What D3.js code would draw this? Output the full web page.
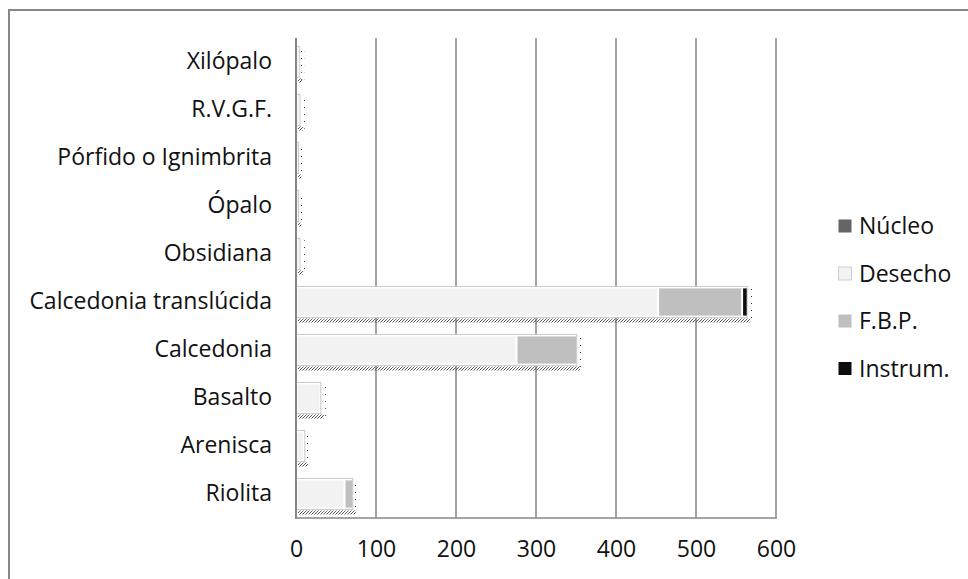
<!DOCTYPE html>
<html>
<head>
<meta charset="utf-8">
<script src="https://cdnjs.cloudflare.com/ajax/libs/d3/7.8.5/d3.min.js"></script>
<style>
  body { margin: 0; background: #ffffff; }
  svg text { font-family: "Open Sans", "Noto Sans", sans-serif; fill: #111111; }
</style>
</head>
<body>
<svg id="chart" width="968" height="579"></svg>
<script>
// categories, top to bottom as drawn
var categories = ["Xilópalo", "R.V.G.F.", "Pórfido o Ignimbrita", "Ópalo", "Obsidiana",
                  "Calcedonia translúcida", "Calcedonia", "Basalto", "Arenisca", "Riolita"];
var seriesNames = ["Núcleo", "Desecho", "F.B.P.", "Instrum."];
var seriesColors = ["#646464", "#f2f2f2", "#bfbfbf", "#0d0d0d"];
var nucleo   = [0, 0, 0, 0, 0, 0, 0, 0, 0, 0];
var desecho  = [4, 5, 3, 3, 5, 452, 275, 30, 9, 60];
var fbp      = [0, 0, 0, 0, 0, 105, 76, 1, 2, 11];
var instrum  = [0, 0, 0, 0, 0, 7, 0, 0, 0, 0];
var xTicks = [0, 100, 200, 300, 400, 500, 600];

var svg = d3.select("#chart");

// outer frame of the chart area
svg.append("rect").attr("x", 9).attr("y", 10).attr("width", 1000).attr("height", 600)
   .attr("fill", "none").attr("stroke", "#878787").attr("stroke-width", 2);

// dotted pattern for the bar shadows
var defs = svg.append("defs");
var pat = defs.append("pattern").attr("id", "shadow").attr("width", 3).attr("height", 3)
              .attr("patternUnits", "userSpaceOnUse");
pat.append("rect").attr("x", 0).attr("y", 0).attr("width", 1).attr("height", 1).attr("fill", "#444");
pat.append("rect").attr("x", 2).attr("y", 1).attr("width", 1).attr("height", 1).attr("fill", "#666");
pat.append("rect").attr("x", 1).attr("y", 2).attr("width", 1).attr("height", 1).attr("fill", "#555");
var pat2 = defs.append("pattern").attr("id", "sidedots").attr("width", 3).attr("height", 7)
               .attr("patternUnits", "userSpaceOnUse");
pat2.append("rect").attr("x", 1).attr("y", 2).attr("width", 1).attr("height", 1).attr("fill", "#333");

var x = d3.scaleLinear().domain([0, 600]).range([296, 776]);
var y = d3.scaleBand().domain(categories).range([38, 518]).paddingInner(0.35).paddingOuter(0.175);

// gridlines
svg.append("g").selectAll("line").data(xTicks.slice(1)).join("line")
   .attr("x1", function(d) { return x(d); }).attr("x2", function(d) { return x(d); })
   .attr("y1", 38).attr("y2", 518)
   .attr("stroke", "#868686").attr("stroke-width", 1.5);

var rows = categories.map(function(c, i) {
  return { cat: c, vals: [nucleo[i], desecho[i], fbp[i], instrum[i]] };
});

var bars = svg.append("g");
rows.forEach(function(r) {
  var total = d3.sum(r.vals);
  var by = y(r.cat), bh = y.bandwidth();
  var xe = x(total);
  // shadow under the bar and dots to its right
  bars.append("rect").attr("x", x(0) + 2).attr("y", by + bh + 1)
      .attr("width", xe - x(0) + 1).attr("height", 4).attr("fill", "url(#shadow)");
  bars.append("rect").attr("x", xe + 2).attr("y", by + 2)
      .attr("width", 3).attr("height", bh + 1).attr("fill", "url(#sidedots)");
  // outer bar outline
  bars.append("rect").attr("x", x(0)).attr("y", by)
      .attr("width", xe - x(0)).attr("height", bh)
      .attr("fill", "#ffffff").attr("stroke", "#c8c8c8").attr("stroke-width", 1);
  var acc = 0;
  r.vals.forEach(function(v, k) {
    if (v > 0) {
      var x0 = x(acc), x1 = x(acc + v);
      bars.append("rect").attr("x", x0 + 1.5).attr("y", by + 2)
          .attr("width", Math.max(0, x1 - x0 - 2)).attr("height", bh - 4)
          .attr("fill", seriesColors[k]);
    }
    acc += v;
  });
});

// axes
var yAxis = d3.axisLeft(y).tickSize(0).tickPadding(24);
var ga = svg.append("g").attr("transform", "translate(296,0)").call(yAxis);
ga.select(".domain").remove();
ga.selectAll("text").attr("font-size", 23);
svg.append("line").attr("x1", 296).attr("x2", 296).attr("y1", 38).attr("y2", 519)
   .attr("stroke", "#868686").attr("stroke-width", 2);
svg.append("line").attr("x1", 295).attr("x2", 777).attr("y1", 518).attr("y2", 518)
   .attr("stroke", "#868686").attr("stroke-width", 1.5);

var xAxis = d3.axisBottom(x).tickValues(xTicks).tickSize(0).tickPadding(23).tickFormat(d3.format("d"));
var gx = svg.append("g").attr("transform", "translate(0,518)").call(xAxis);
gx.select(".domain").remove();
gx.selectAll("text").attr("font-size", 23);

// legend
var leg = svg.append("g");
seriesNames.forEach(function(n, i) {
  var ly = 226 + i * 47.5;
  leg.append("rect").attr("x", 838.5).attr("y", ly - 6.5).attr("width", 13).attr("height", 13)
     .attr("fill", seriesColors[i]).attr("stroke", i == 1 ? "#cfcfcf" : "none");
  leg.append("text").attr("x", 859).attr("y", ly).attr("dy", "0.35em")
     .attr("font-size", 23).text(n);
});
</script>
</body>
</html>
